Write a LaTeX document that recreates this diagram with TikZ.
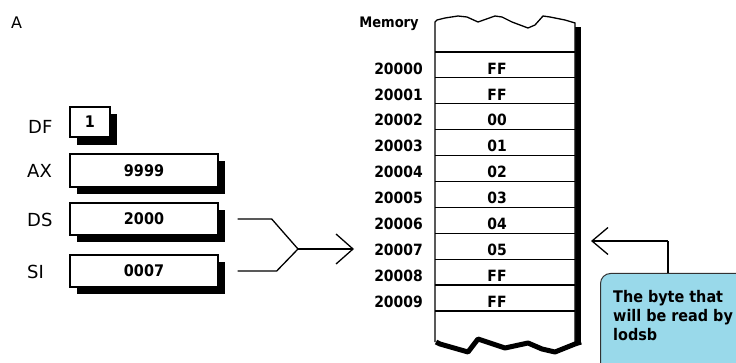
\documentclass[tikz,border=0pt]{standalone}
\usepackage{fontspec}
\setmainfont{DejaVu Sans}
\newfontfamily\condfont{DejaVu Sans Condensed}
\usetikzlibrary{arrows.meta,calc}
\definecolor{calloutblue}{RGB}{153,217,234}
\definecolor{calloutedge}{RGB}{50,50,50}
\tikzset{
  regbox/.style={draw=black, line width=1.4pt, fill=white, minimum height=32pt, inner sep=0pt, font=\condfont\bfseries\fontsize{16}{18}\selectfont},
  reglabel/.style={anchor=west, inner sep=0pt, font=\fontsize{18}{20}\selectfont},
  addr/.style={anchor=east, inner sep=0pt, font=\condfont\bfseries\fontsize{15.5}{17}\selectfont},
  cellval/.style={inner sep=0pt, font=\condfont\bfseries\fontsize{15.5}{17}\selectfont},
  wire/.style={line width=1.3pt},
  barb/.style={line width=1.3pt, -{Straight Barb[length=17pt,width=30pt]}},
}
\begin{document}
\begin{tikzpicture}[x=1pt,y=-1pt]
\useasboundingbox (0,0) rectangle (736,363);
\clip (0,0) rectangle (736,363);

% title
\node[anchor=west, inner sep=0pt, font=\fontsize{16}{18}\selectfont] (title) at (11,23) {A};

% registers: shadows
\fill[black] (77,114) rectangle (117,145);
\fill[black] (77,161) rectangle (225,194);
\fill[black] (77,210) rectangle (225,242);
\fill[black] (77,262) rectangle (225,294);
% registers
\node[regbox, minimum width=40pt, minimum height=30pt] (df) at (90,122) {1};
\node[regbox, minimum width=148pt, minimum height=33pt] (ax) at (144,170.5) {9999};
\node[regbox, minimum width=148pt] (ds) at (144,219) {2000};
\node[regbox, minimum width=148pt] (si) at (144,271) {0007};
\node[reglabel] (dfl) at (28,127) {DF};
\node[reglabel] (axl) at (27,171) {AX};
\node[reglabel] (dsl) at (27,220) {DS};
\node[reglabel] (sil) at (27,272) {SI};

% memory column
\fill[black] (575,27) rectangle (581,345);
\filldraw[fill=white, draw=black, line width=1.3pt]
  (435,342) -- (435,22) -- (437,20) -- (445,18) -- (458,16) -- (467,17) -- (478,22)
  -- (495,16) -- (502,17) -- (512,22) -- (528,28) -- (535,25) -- (543,16) -- (550,17)
  -- (565,20) -- (575,23) -- (575,343);
\draw[line width=5pt, line join=round]
  (436,342) -- (440,344) -- (468,352) -- (478,339) -- (490,343) -- (505,348)
  -- (528,343) -- (542,349) -- (555,352) -- (575,344) -- (581,342);
\node[inner sep=0pt, font=\condfont\bfseries\fontsize{14.5}{16}\selectfont] (memlabel) at (389,24) {Memory};

\foreach \i in {0,...,10} {
  \draw[line width=1.2pt] (435,52+25.9*\i) -- (575,52+25.9*\i);
}
\foreach \a/\v [count=\i from 0] in {20000/FF,20001/FF,20002/00,20003/01,20004/02,20005/03,20006/04,20007/05,20008/FF,20009/FF} {
  \node[addr] (a\i) at (423,68.5+25.9*\i) {\a};
  \node[cellval] (c\i) at (497,68.5+25.9*\i) {\v};
}

% connectors from DS and SI
\coordinate (dsout) at ([xshift=19pt]ds.east);
\coordinate (siout) at ([xshift=19pt]si.east);
\coordinate (join) at (298,249);
\coordinate (memin) at (354,249);
\draw[wire, line join=miter] (dsout) -- ++(34,0) -- (join);
\draw[wire, line join=miter] (siout) -- ++(39,0) -- (join);
\draw[barb] (join) -- (memin);

% callout
\node[draw=calloutedge, fill=calloutblue, line width=1pt, rounded corners=10pt,
      minimum width=160pt, minimum height=110pt, anchor=north west] (callout) at (600,273) {};
\node[anchor=north west, align=left, inner sep=0pt, font=\condfont\bfseries\fontsize{16}{19}\selectfont] (callouttext) at (613,290)
  {The byte that\\will be read by\\lodsb};
\coordinate (cup) at (668,241);
\coordinate (memtip) at (591,241);
\draw[wire] (callout.north west -| cup) -- (cup);
\draw[line width=1.3pt, -{Straight Barb[length=16pt,width=27pt]}] (cup) -- (memtip);
\end{tikzpicture}
\end{document}
